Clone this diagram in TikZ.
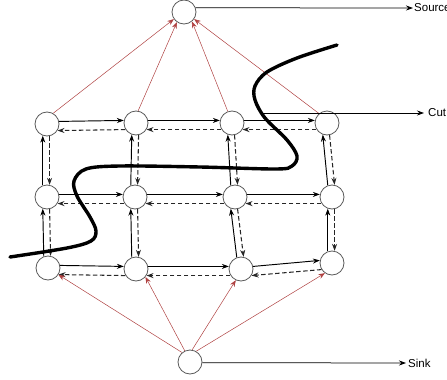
\documentclass[tikz,border=0pt]{standalone}
\usepackage{fontspec}
\setmainfont{Liberation Sans}
\usetikzlibrary{arrows.meta}
\definecolor{feedred}{RGB}{175,65,65}
\definecolor{ringgray}{RGB}{90,90,90}
\begin{document}
\begin{tikzpicture}[x=1pt,y=-1pt,
  vtx/.style={circle,draw=ringgray,line width=0.8pt,minimum size=24pt,inner sep=0pt,fill=white},
  fwd/.style={-{Stealth[length=7pt,width=5pt]},draw=black,line width=0.95pt},
  back/.style={-{Stealth[length=7pt,width=5pt]},draw=black!85,line width=1.05pt,dash pattern=on 4.5pt off 2.5pt},
  feed/.style={-{Stealth[length=6.5pt,width=5pt]},draw=feedred,line width=0.5pt},
  outarrow/.style={-{Stealth[length=7pt,width=5pt]},draw=black,line width=0.75pt},
  lbl/.style={font=\fontsize{11.5}{13}\selectfont,anchor=west,inner sep=0pt},
  cutline/.style={line width=3.4pt,line cap=round,draw=black}]
\useasboundingbox (0,0) rectangle (447,380);

% terminal vertices
\node[vtx] (src) at (184,12) {};
\node[vtx] (snk) at (190,362) {};

% 3 x 4 grid of pixel vertices
\node[vtx] (n-1-1) at (47,124) {};
\node[vtx] (n-1-2) at (136,123) {};
\node[vtx] (n-1-3) at (232,123) {};
\node[vtx] (n-1-4) at (327,123) {};
\node[vtx] (n-2-1) at (47,197) {};
\node[vtx] (n-2-2) at (135,197) {};
\node[vtx] (n-2-3) at (235,197) {};
\node[vtx] (n-2-4) at (332,197) {};
\node[vtx] (n-3-1) at (48,268) {};
\node[vtx] (n-3-2) at (136,269) {};
\node[vtx] (n-3-3) at (241,269) {};
\node[vtx] (n-3-4) at (332,263) {};

% horizontal edges: solid forward, dashed backward
\foreach \r in {1,2,3}{
  \foreach \c/\d in {1/2,2/3,3/4}{
    \draw[fwd] (n-\r-\c.12) -- (n-\r-\d.168);
    \draw[back] (n-\r-\d.-148) -- (n-\r-\c.-32);
  }
}

% vertical edges: solid upward, dashed downward
\foreach \c in {1,2,3,4}{
  \foreach \r/\s in {1/2,2/3}{
    \draw[fwd] (n-\s-\c.110) -- (n-\r-\c.250);
    \draw[back] (n-\r-\c.-78) -- (n-\s-\c.78);
  }
}

% links to the source
\draw[feed] (n-1-1.60) -- (src.215);
\draw[feed] (n-1-2.80) -- (src.235);
\draw[feed] (n-1-3.110) -- (src.-50);
\draw[feed] (n-1-4.130) -- (src.-35);

% links from the sink
\draw[feed] (snk.130) -- (n-3-1.-33);
\draw[feed] (snk.115) -- (n-3-2.-40);
\draw[feed] (snk.80) -- (n-3-3.-115);
\draw[feed] (snk.60) -- (n-3-4.-125);

% the cut
\draw[cutline] plot[smooth,tension=0.55] coordinates {
  (337,45) (297,58) (267,72) (255,86) (255,100) (265,118) (287,140)
  (297,156) (292,166) (276,169) (200,167) (120,166) (86,169) (74,181)
  (77,196) (90,217) (96,231) (91,241) (67,248) (10,257)};

% labels
\coordinate (srcend) at (413,8);
\coordinate (cutstart) at (263,113);
\coordinate (cutend) at (424,113);
\coordinate (snkend) at (406,363);
\draw[outarrow] (src.20) -- (srcend);
\draw[outarrow] (cutstart) -- (cutend);
\draw[outarrow] (snk.-3) -- (snkend);
\node[lbl] (srclbl) at (414,8) {Source};
\node[lbl] (cutlbl) at (428,113) {Cut};
\node[lbl] (snklbl) at (408,363) {Sink};
\end{tikzpicture}
\end{document}
